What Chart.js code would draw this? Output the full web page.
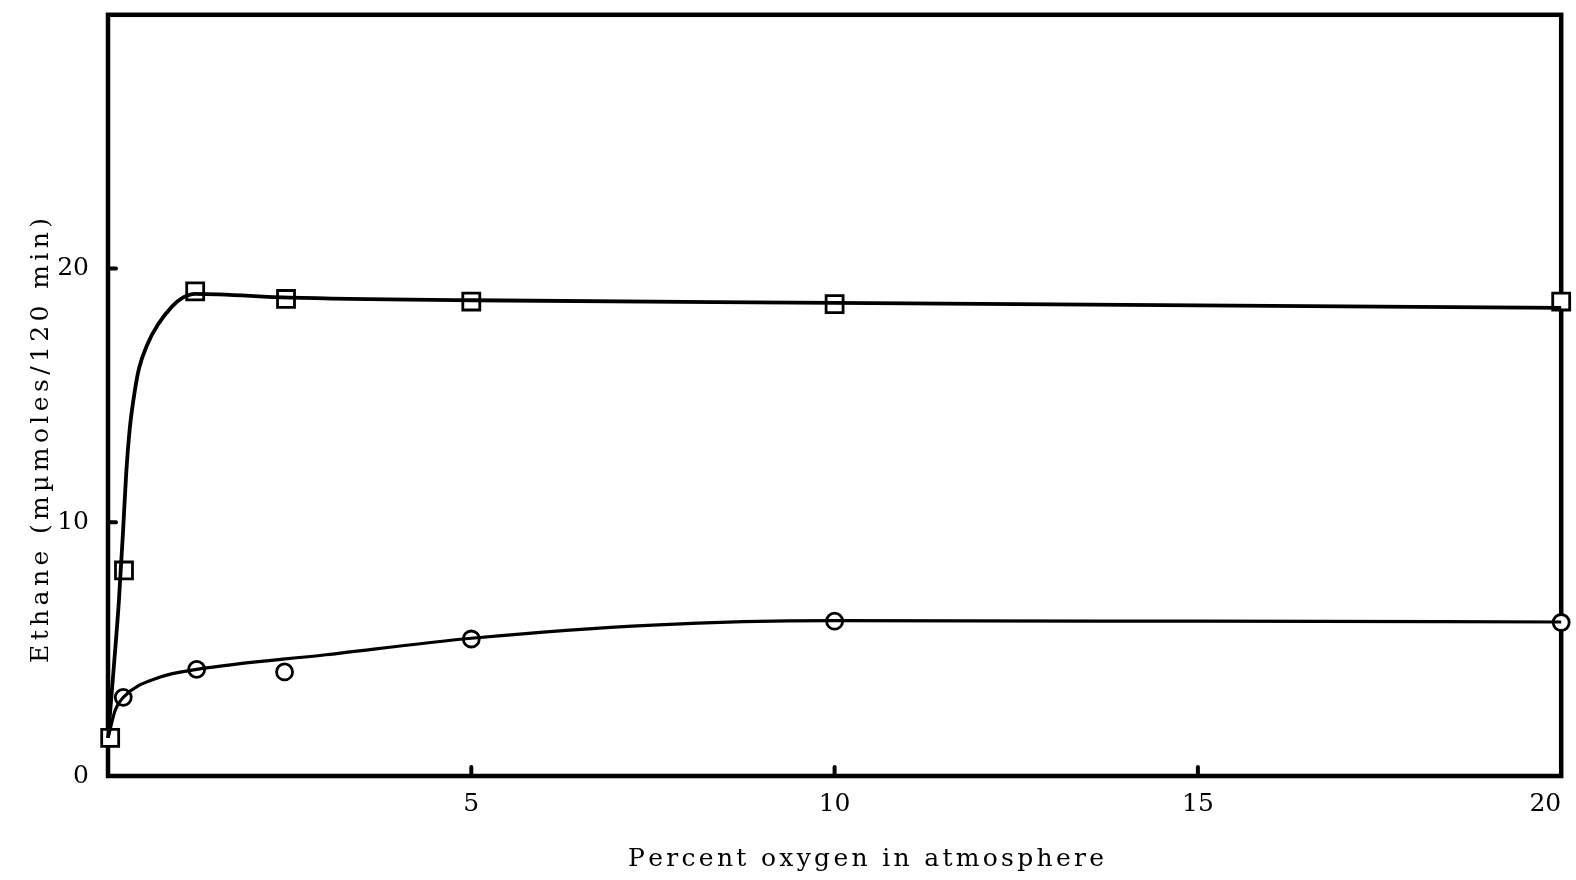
<!DOCTYPE html>
<html>
<head>
<meta charset="utf-8">
<script src="https://cdn.jsdelivr.net/npm/chart.js@4.4.1/dist/chart.umd.min.js"></script>
<style>
  html, body { margin: 0; padding: 0; background: #fff; }
  #wrap { width: 1576px; height: 880px; position: relative; }
</style>
</head>
<body>
<div id="wrap"><canvas id="c" width="1576" height="880"></canvas></div>
<script>
// ---- data ----
const squareX = [0.03, 0.22, 1.2, 2.45, 5, 10, 20];
const squareY = [1.5, 8.1, 19.1, 18.8, 18.7, 18.6, 18.7];

const circleX = [0.03, 0.21, 1.22, 2.43, 5, 10, 20];
const circleY = [1.5, 3.1, 4.2, 4.1, 5.4, 6.1, 6.05];

// hand-drawn fitted curves
const squareCurveX = [0, 0.08, 0.15, 0.21, 0.25, 0.3, 0.37, 0.43, 0.54, 0.69, 0.88, 1.03, 1.2, 2.5, 5, 10, 20];
const squareCurveY = [1.5, 4.3, 6.9, 9.8, 11.9, 13.7, 15.2, 16.1, 17.0, 17.8, 18.5, 18.85, 19.0, 18.85, 18.75, 18.65, 18.45];

const circleCurveX = [0, 0.1, 0.21, 0.72, 1.22, 3, 5, 7.5, 10, 15, 20];
const circleCurveY = [1.5, 2.6, 3.1, 3.9, 4.2, 4.78, 5.43, 5.95, 6.12, 6.1, 6.07];

const xTickValues = [0, 5, 10, 15, 20];
const xTickLabels = ['', '5', '10', '15', '20'];
const yTickValues = [0, 10, 20];
const xTitle = "Percent oxygen in atmosphere";
const yTitle = "Ethane (mµmoles/120 min)";

const pts = (xs, ys) => xs.map((x, i) => ({ x: x, y: ys[i] }));

const FONT = '"DejaVu Serif", "Liberation Serif", serif';

function drawSpaced(ctx, text, x0, y, targetWidth) {
  const natural = ctx.measureText(text).width;
  const gap = text.length > 1 ? (targetWidth - natural) / (text.length - 1) : 0;
  let x = x0;
  for (const ch of text) {
    ctx.fillText(ch, x, y);
    x += ctx.measureText(ch).width + gap;
  }
}

const framePlugin = {
  id: 'frame',
  beforeDatasetsDraw(chart) {
    const { ctx, chartArea: a, scales } = chart;
    ctx.save();
    ctx.strokeStyle = '#000';
    ctx.lineWidth = 4.5;
    ctx.strokeRect(a.left, a.top, a.right - a.left, a.bottom - a.top);
    // inward tick marks
    ctx.lineWidth = 4;
    ctx.lineCap = 'round';
    [5, 10, 15].forEach(v => {
      const px = scales.x.getPixelForValue(v);
      ctx.beginPath();
      ctx.moveTo(px, a.bottom);
      ctx.lineTo(px, a.bottom - 9);
      ctx.stroke();
    });
    [10, 20].forEach(v => {
      const py = scales.y.getPixelForValue(v);
      ctx.beginPath();
      ctx.moveTo(a.left, py);
      ctx.lineTo(a.left + 8, py);
      ctx.stroke();
    });
    ctx.restore();
  },
  afterDraw(chart) {
    const { ctx } = chart;
    ctx.save();
    ctx.fillStyle = '#000';
    ctx.font = '25px ' + FONT;
    ctx.textBaseline = 'alphabetic';
    ctx.textAlign = 'left';
    drawSpaced(ctx, xTitle, 628, 866, 475);
    ctx.translate(48, 663);
    ctx.rotate(-Math.PI / 2);
    drawSpaced(ctx, yTitle, 0, 0, 445);
    ctx.restore();
  }
};

function zeroPad(scale) {
  scale.paddingLeft = 0;
  scale.paddingRight = 0;
  scale.paddingTop = 0;
  scale.paddingBottom = 0;
}

new Chart(document.getElementById('c'), {
  type: 'scatter',
  data: {
    datasets: [
      {
        label: 'squares curve',
        data: pts(squareCurveX, squareCurveY),
        showLine: true,
        borderColor: '#000',
        borderWidth: 3.8,
        pointRadius: 0,
        cubicInterpolationMode: 'monotone',
        fill: false,
        clip: false
      },
      {
        label: 'circles curve',
        data: pts(circleCurveX, circleCurveY),
        showLine: true,
        borderColor: '#000',
        borderWidth: 3.2,
        pointRadius: 0,
        cubicInterpolationMode: 'monotone',
        fill: false,
        clip: false
      },
      {
        label: 'squares',
        data: pts(squareX, squareY),
        showLine: false,
        pointStyle: 'rect',
        pointRadius: 12,
        pointBackgroundColor: '#fff',
        pointBorderColor: '#000',
        pointBorderWidth: 2.8,
        clip: false
      },
      {
        label: 'circles',
        data: pts(circleX, circleY),
        showLine: false,
        pointStyle: 'circle',
        pointRadius: [2.5, 8, 8, 8, 8, 8, 8],
        pointBackgroundColor: '#fff',
        pointBorderColor: '#000',
        pointBorderWidth: 2.8,
        clip: false
      }
    ]
  },
  options: {
    responsive: false,
    animation: false,
    layout: { padding: { top: 13, right: 14, left: 0, bottom: 0 } },
    plugins: {
      legend: { display: false },
      tooltip: { enabled: false },
      title: { display: false }
    },
    scales: {
      x: {
        type: 'linear',
        min: 0,
        max: 20,
        grid: { display: false, drawTicks: false },
        border: { display: false },
        afterBuildTicks(scale) { scale.ticks = xTickValues.map(v => ({ value: v })); },
        ticks: {
          padding: 13,
          color: '#000',
          align: 'inner',
          font: { family: FONT, size: 25 },
          maxRotation: 0,
          autoSkip: false,
          callback: (v) => xTickLabels[xTickValues.indexOf(v)]
        },
        afterFit(scale) { scale.height = 104; zeroPad(scale); }
      },
      y: {
        type: 'linear',
        min: 0,
        max: 30,
        grid: { display: false, drawTicks: false },
        border: { display: false },
        afterBuildTicks(scale) { scale.ticks = yTickValues.map(v => ({ value: v })); },
        ticks: {
          padding: 19,
          color: '#000',
          font: { family: FONT, size: 25 },
          autoSkip: false
        },
        afterFit(scale) { scale.width = 108; zeroPad(scale); }
      }
    }
  },
  plugins: [framePlugin]
});
</script>
</body>
</html>
